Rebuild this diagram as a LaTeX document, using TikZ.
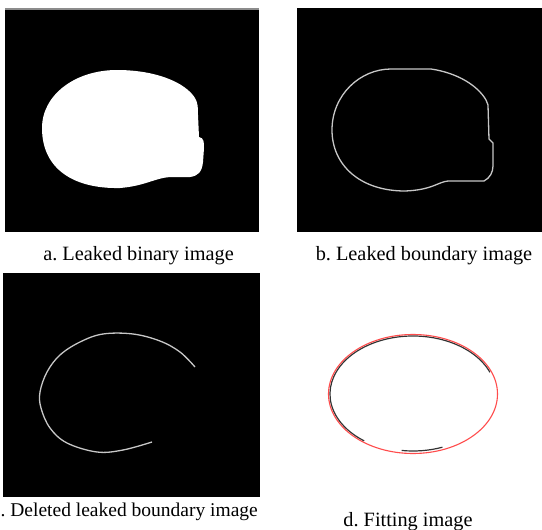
\documentclass[tikz,border=0pt]{standalone}
\usepackage{fontspec}
\setmainfont{Liberation Serif}
\frenchspacing
\begin{document}
\begin{tikzpicture}[x=1pt,y=-1pt,
  caption/.style={font=\fontsize{20.3}{24}\selectfont, inner sep=0pt},
  edgeline/.style={draw=black!22, line width=1.3pt},
  fitred/.style={draw=red!70, line width=1.1pt},
  fitblack/.style={draw=black!80, line width=1.2pt}]
\useasboundingbox (0,0) rectangle (542,530);
\fill[white] (0,0) rectangle (542,530);
% panel a
\fill[black] (5,8) rectangle (259,232);
\fill[black!45] (5,8) rectangle (259,10);
\fill[white] (117,70) .. controls (155,70) and (185,82) .. (195,98)
  .. controls (198,103) and (198,108) .. (198,115) -- (199,137)
  .. controls (204,138) and (204,142) .. (204,148) -- (203,162)
  .. controls (202,172) and (198,176) .. (190,177) -- (170,177)
  .. controls (155,178) and (145,186) .. (120,188)
  .. controls (75,189) and (42,170) .. (42,128)
  .. controls (42,95) and (75,70) .. (117,70) -- cycle;
\node[caption, anchor=base] (capa) at (138.5,260) {a. Leaked binary image};
% panel b
\fill[black] (297,8) rectangle (542,232);
\draw[edgeline] (391,69) -- (431,69) .. controls (458,73) and (478,86) .. (486,100)
  -- (488,105) -- (489,139) -- (493,143) -- (493,166)
  .. controls (493,172) and (490,178) .. (484,181) -- (448,181)
  .. controls (438,182) and (432,190) .. (405,191)
  .. controls (360,191) and (332,165) .. (332,130)
  .. controls (332,95) and (360,69) .. (391,69) -- cycle;
\node[caption, anchor=base] (capb) at (424,260) {b. Leaked boundary image};
% panel c
\fill[black] (3,273) rectangle (260,497);
\draw[edgeline] plot[smooth, tension=0.6] coordinates {
 (195,367) (180,352) (160,341) (133,334) (103,334) (80,342) (60,355) (47,372) (40,392) (41,408) (50,428) (67,443) (97,452) (123,450) (152,442)};
\node[caption, font=\fontsize{19.5}{24}\selectfont, anchor=base east] (capc) at (258,516) {c. Deleted leaked boundary image};
% panel d
\coordinate (dc) at (413,394);
\draw[fitblack] ([shift={(-22:83 and 58)}]dc) arc[start angle=-22, end angle=-234, x radius=83, y radius=58];
\draw[fitblack] ([shift={(-262:82 and 57)}]dc) arc[start angle=-262, end angle=-291, x radius=82, y radius=57];
\draw[fitred] (dc) ellipse[x radius=84.5, y radius=59.5];
\node[caption, anchor=base] (capd) at (408,526) {d. Fitting image};
\end{tikzpicture}
\end{document}
